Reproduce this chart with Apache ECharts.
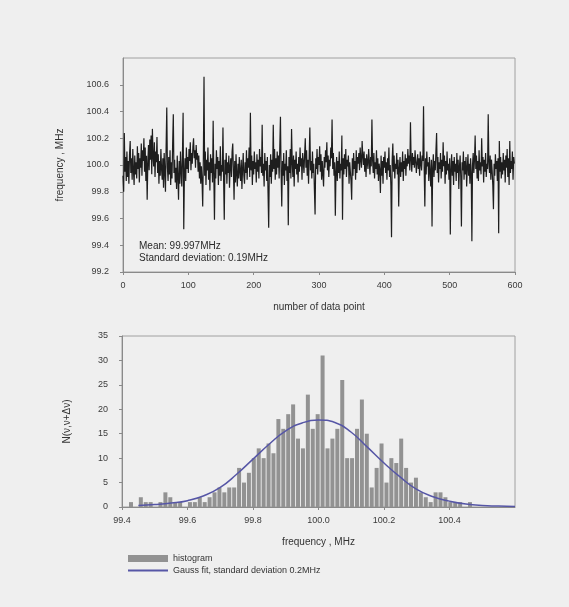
<!DOCTYPE html>
<html>
<head>
<meta charset="utf-8">
<script src="https://cdn.jsdelivr.net/npm/echarts@6/dist/echarts.min.js"></script>
<style>
  html, body { margin: 0; padding: 0; background: #efefef; }
  #chart { width: 569px; height: 607px; }
</style>
</head>
<body>
<div id="chart"></div>
<script>
// Frequency readings, one per data point (MHz)
const frequencySeries = [
  99.92, 99.80, 100.24, 99.95, 100.06, 99.88, 100.10, 99.91, 100.03, 99.86, 100.08, 100.18, 99.94, 100.05, 99.89, 100.12, 99.96, 99.85, 100.07, 99.93,
  100.02, 99.90, 100.14, 99.97, 100.09, 99.87, 100.05, 99.98, 100.16, 99.92, 100.11, 100.03, 100.20, 99.95, 100.13, 99.88, 100.07, 99.74, 100.01, 100.15,
  99.96, 100.19, 100.04, 100.22, 99.93, 100.27, 100.06, 99.99, 100.17, 99.91, 100.10, 100.02, 100.21, 99.94, 100.08, 99.86, 100.03, 99.92, 100.12, 99.97,
  99.89, 100.05, 99.83, 100.09, 99.95, 99.80, 100.14, 100.43, 99.98, 99.88, 100.06, 99.93, 100.11, 99.85, 100.02, 99.90, 100.16, 100.38, 99.94, 100.04,
  99.87, 99.98, 99.82, 100.07, 99.91, 99.74, 100.03, 99.86, 100.10, 99.95, 99.84, 100.08, 100.39, 99.52, 99.93, 100.05, 99.88, 100.13, 99.97, 100.06,
  99.94, 100.12, 100.03, 100.17, 99.96, 100.09, 100.01, 100.14, 100.20, 100.05, 100.11, 99.98, 100.15, 100.04, 100.09, 99.95, 100.07, 99.90, 100.02, 99.86,
  99.99, 99.88, 99.69, 100.06, 100.66, 99.92, 100.10, 99.85, 100.04, 99.96, 100.13, 99.89, 100.02, 99.81, 100.08, 99.94, 100.05, 99.87, 100.33, 99.93,
  99.59, 100.01, 99.90, 100.11, 99.97, 100.06, 99.85, 100.03, 99.92, 100.14, 99.88, 100.00, 99.95, 100.28, 99.89, 99.59, 100.04, 99.93, 100.09, 99.86,
  100.02, 99.94, 100.07, 99.83, 99.99, 100.05, 99.91, 100.10, 100.16, 99.96, 99.74, 100.03, 99.87, 100.08, 99.93, 99.84, 100.01, 99.90, 100.06, 99.95,
  99.88, 100.04, 99.82, 99.97, 100.09, 99.92, 99.86, 100.02, 99.94, 100.11, 99.89, 100.05, 99.98, 100.13, 99.91, 100.39, 99.96, 100.07, 99.85, 100.03,
  99.93, 100.10, 99.97, 100.02, 99.87, 100.08, 99.95, 100.04, 99.90, 100.12, 99.99, 100.06, 99.94, 100.30, 99.92, 100.01, 99.84, 100.09, 99.96, 100.03,
  99.88, 100.06, 99.79, 99.53, 100.00, 99.91, 100.08, 99.86, 100.04, 99.95, 100.30, 99.97, 100.12, 99.89, 100.05, 99.93, 100.10, 99.98, 100.07, 99.90,
  100.14, 100.36, 99.95, 99.69, 100.03, 99.92, 100.09, 99.85, 100.01, 99.96, 100.11, 99.88, 99.99, 99.55, 100.06, 99.94, 100.12, 99.90, 100.27, 100.02,
  99.91, 100.07, 99.84, 100.04, 99.97, 100.10, 99.93, 100.01, 99.87, 100.06, 99.95, 100.13, 99.99, 100.05, 99.89, 100.09, 100.02, 99.94, 100.08, 100.20,
  99.98, 100.11, 99.92, 100.04, 99.86, 100.07, 100.28, 99.96, 100.03, 99.90, 100.10, 99.94, 100.01, 99.81, 99.63, 100.05, 99.97, 100.12, 99.93, 100.06,
  100.00, 100.14, 99.95, 100.08, 99.89, 100.03, 99.93, 99.84, 100.06, 99.98, 100.11, 100.02, 100.17, 99.96, 100.07, 99.91, 100.04, 99.99, 100.13, 100.05,
  100.34, 99.97, 100.09, 99.92, 100.02, 99.62, 99.95, 100.06, 99.88, 100.03, 99.94, 100.10, 99.90, 100.01, 99.96, 100.22, 99.59, 100.05, 99.93, 100.08,
  99.97, 100.12, 99.91, 100.04, 99.99, 100.07, 99.86, 100.02, 99.95, 99.88, 99.74, 100.05, 99.92, 100.09, 99.97, 100.03, 99.89, 100.11, 99.94, 100.06,
  100.01, 100.09, 99.96, 100.13, 100.04, 99.98, 100.18, 100.07, 100.00, 100.10, 99.95, 100.05, 99.91, 100.08, 100.02, 99.97, 100.12, 100.03, 99.93, 100.06,
  99.99, 100.34, 100.04, 99.94, 100.09, 99.90, 100.02, 99.97, 100.11, 99.93, 100.05, 99.88, 100.01, 99.96, 99.79, 100.07, 99.92, 100.03, 99.86, 100.06,
  99.98, 100.10, 99.94, 100.02, 99.89, 100.05, 99.96, 100.13, 99.91, 100.00, 99.85, 99.46, 100.04, 100.16, 99.95, 100.07, 99.90, 100.01, 99.97, 100.09,
  99.93, 100.04, 99.69, 99.98, 100.06, 99.91, 100.02, 99.95, 100.10, 99.88, 100.03, 99.97, 100.08, 99.92, 100.05, 99.99, 100.12, 100.01, 100.07, 99.96,
  100.32, 100.04, 99.95, 100.09, 100.00, 100.06, 99.98, 100.11, 100.03, 99.94, 100.02, 100.08, 99.97, 100.05, 99.92, 100.10, 100.01, 99.96, 100.07, 100.03,
  100.44, 99.97, 99.69, 100.05, 99.93, 100.10, 99.99, 100.02, 99.88, 100.06, 99.95, 99.84, 100.04, 99.54, 99.98, 100.08, 99.91, 100.03, 99.96, 100.11,
  100.24, 99.94, 100.06, 99.87, 100.02, 99.97, 100.09, 99.90, 100.04, 99.95, 100.17, 99.99, 100.07, 99.86, 100.03, 99.93, 100.10, 99.96, 100.01, 99.89,
  100.05, 99.48, 99.97, 100.08, 99.92, 100.03, 99.85, 100.06, 99.95, 100.01, 99.88, 100.09, 99.94, 100.04, 99.82, 99.99, 100.07, 99.91, 99.54, 100.02,
  99.96, 100.10, 99.89, 100.03, 99.93, 100.06, 99.84, 99.98, 100.08, 99.92, 100.01, 99.86, 100.05, 99.95, 99.43, 100.00, 100.09, 99.94, 100.04, 100.22,
  99.97, 100.07, 99.90, 100.03, 99.88, 100.11, 99.96, 100.02, 99.93, 100.20, 99.99, 100.06, 99.87, 100.04, 99.95, 100.09, 99.91, 100.01, 99.97, 100.38,
  100.02, 99.94, 100.07, 99.89, 100.04, 99.96, 99.85, 99.67, 100.01, 99.92, 100.08, 99.97, 100.03, 99.88, 100.05, 99.49, 100.18, 99.95, 100.06, 99.90,
  100.02, 99.93, 100.09, 99.96, 100.04, 99.87, 100.07, 99.98, 100.12, 99.91, 100.05, 99.85, 100.18, 99.94, 100.03, 99.97, 100.10, 99.89, 100.06, 100.01
];

// Histogram bins: centre frequency (MHz) and count
const binCenters = [
  99.4275, 99.4425, 99.4575, 99.4725, 99.4875, 99.5025, 99.5175, 99.5325, 99.5475, 99.5625,
  99.5775, 99.5925, 99.6075, 99.6225, 99.6375, 99.6525, 99.6675, 99.6825, 99.6975, 99.7125,
  99.7275, 99.7425, 99.7575, 99.7725, 99.7875, 99.8025, 99.8175, 99.8325, 99.8475, 99.8625,
  99.8775, 99.8925, 99.9075, 99.9225, 99.9375, 99.9525, 99.9675, 99.9825, 99.9975, 100.0125,
  100.0275, 100.0425, 100.0575, 100.0725, 100.0875, 100.1025, 100.1175, 100.1325, 100.1475, 100.1625,
  100.1775, 100.1925, 100.2075, 100.2225, 100.2375, 100.2525, 100.2675, 100.2825, 100.2975, 100.3125,
  100.3275, 100.3425, 100.3575, 100.3725, 100.3875, 100.4025, 100.4175, 100.4325, 100.4475, 100.4625
];
const binCounts = [
  1, 0, 2, 1, 1, 0, 1, 3, 2, 1,
  1, 0, 1, 1, 2, 1, 2, 3, 4, 3,
  4, 4, 8, 5, 7, 10, 12, 10, 13, 11,
  18, 16, 19, 21, 14, 12, 23, 16, 19, 31,
  12, 14, 16, 26, 10, 10, 16, 22, 15, 4,
  8, 13, 5, 10, 9, 14, 8, 5, 6, 3,
  2, 1, 3, 3, 2, 1, 1, 1, 0, 1
];

// Gauss fit curve samples (MHz, count)
const fitFreq = [
  99.45, 99.50, 99.55, 99.60, 99.65, 99.70, 99.75, 99.80, 99.85, 99.90, 99.95, 100.00,
  100.05, 100.10, 100.15, 100.20, 100.25, 100.30, 100.35, 100.40, 100.45, 100.50, 100.55, 100.60
];
const fitCounts = [
  0.3, 0.5, 0.8, 1.3, 2.3, 4.0, 6.7, 9.8, 12.9, 15.6, 17.2, 17.8,
  17.3, 15.3, 12.2, 9.0, 6.1, 3.6, 2.1, 1.2, 0.6, 0.3, 0.2, 0.1
];

const meanText = 'Mean: 99.997MHz';
const stdText = 'Standard deviation: 0.19MHz';
const histName = 'histogram';
const fitName = 'Gauss fit, standard deviation 0.2MHz';

const FONT = '"Liberation Sans", Arial, sans-serif';
const labelStyle = { color: '#3a3a3a', fontSize: 9, fontFamily: FONT };
const axisLineStyle = { lineStyle: { color: '#8a8a8a', width: 1 } };
const tickStyle = { show: true, length: 3, inside: false, lineStyle: { color: '#8a8a8a' } };

const chart = echarts.init(document.getElementById('chart'), null, { renderer: 'canvas' });

chart.setOption({
  backgroundColor: '#efefef',
  animation: false,
  grid: [
    { left: 123, right: 54, top: 58, height: 214, show: true, borderColor: '#a0a0a0', borderWidth: 1, backgroundColor: 'transparent' },
    { left: 122, right: 54, top: 336, height: 171, show: true, borderColor: '#a0a0a0', borderWidth: 1, backgroundColor: 'transparent' }
  ],
  xAxis: [
    {
      gridIndex: 0, type: 'value', min: 0, max: 600, interval: 100,
      name: 'number of data point', nameLocation: 'middle', nameGap: 30,
      nameTextStyle: { color: '#333', fontSize: 10, fontFamily: FONT },
      axisLine: axisLineStyle, axisTick: tickStyle, splitLine: { show: false },
      axisLabel: Object.assign({ margin: 9 }, labelStyle)
    },
    {
      gridIndex: 1, type: 'value', min: 99.4, max: 100.6, interval: 0.2,
      name: 'frequency , MHz', nameLocation: 'middle', nameGap: 30,
      nameTextStyle: { color: '#333', fontSize: 10, fontFamily: FONT },
      axisLine: axisLineStyle, axisTick: tickStyle, splitLine: { show: false },
      axisLabel: Object.assign({ margin: 9, showMaxLabel: false, formatter: v => v.toFixed(1) }, labelStyle)
    }
  ],
  yAxis: [
    {
      gridIndex: 0, type: 'value', min: 99.2, max: 100.8, interval: 0.2,
      name: 'frequency , MHz', nameLocation: 'middle', nameGap: 58, nameRotate: 90,
      nameTextStyle: { color: '#333', fontSize: 10, fontFamily: FONT },
      axisLine: axisLineStyle, axisTick: tickStyle, splitLine: { show: false },
      axisLabel: Object.assign({ margin: 14, showMaxLabel: false, formatter: v => v.toFixed(1) }, labelStyle)
    },
    {
      gridIndex: 1, type: 'value', min: 0, max: 35, interval: 5,
      name: 'N(ν,ν+Δν)', nameLocation: 'middle', nameGap: 50, nameRotate: 90,
      nameTextStyle: { color: '#333', fontSize: 10, fontFamily: FONT },
      axisLine: axisLineStyle, axisTick: tickStyle, splitLine: { show: false },
      axisLabel: Object.assign({ margin: 14 }, labelStyle)
    }
  ],
  legend: {
    orient: 'vertical', left: 122, top: 549, itemGap: 3,
    itemWidth: 40, itemHeight: 7,
    textStyle: { color: '#333', fontSize: 9, fontFamily: FONT },
    data: [
      { name: histName, icon: 'rect' },
      { name: fitName, itemStyle: { opacity: 0 } }
    ]
  },
  graphic: [
    {
      type: 'text', left: 139, top: 240,
      style: { text: meanText + '\n' + stdText, fill: '#2a2a2a', font: '10px ' + FONT, lineHeight: 12 }
    }
  ],
  series: [
    {
      type: 'line', xAxisIndex: 0, yAxisIndex: 0, symbol: 'none',
      lineStyle: { color: '#1e1e1e', width: 1.2 },
      data: frequencySeries.map((v, i) => [i, v])
    },
    {
      name: histName, type: 'bar', xAxisIndex: 1, yAxisIndex: 1,
      barWidth: 4, itemStyle: { color: '#929292' },
      data: binCenters.map((c, i) => [c, binCounts[i]])
    },
    {
      name: fitName, type: 'line', xAxisIndex: 1, yAxisIndex: 1, symbol: 'none', smooth: true,
      lineStyle: { color: '#5656a6', width: 1.5 }, itemStyle: { color: '#5656a6' },
      data: fitFreq.map((f, i) => [f, fitCounts[i]])
    }
  ]
});
</script>
</body>
</html>
